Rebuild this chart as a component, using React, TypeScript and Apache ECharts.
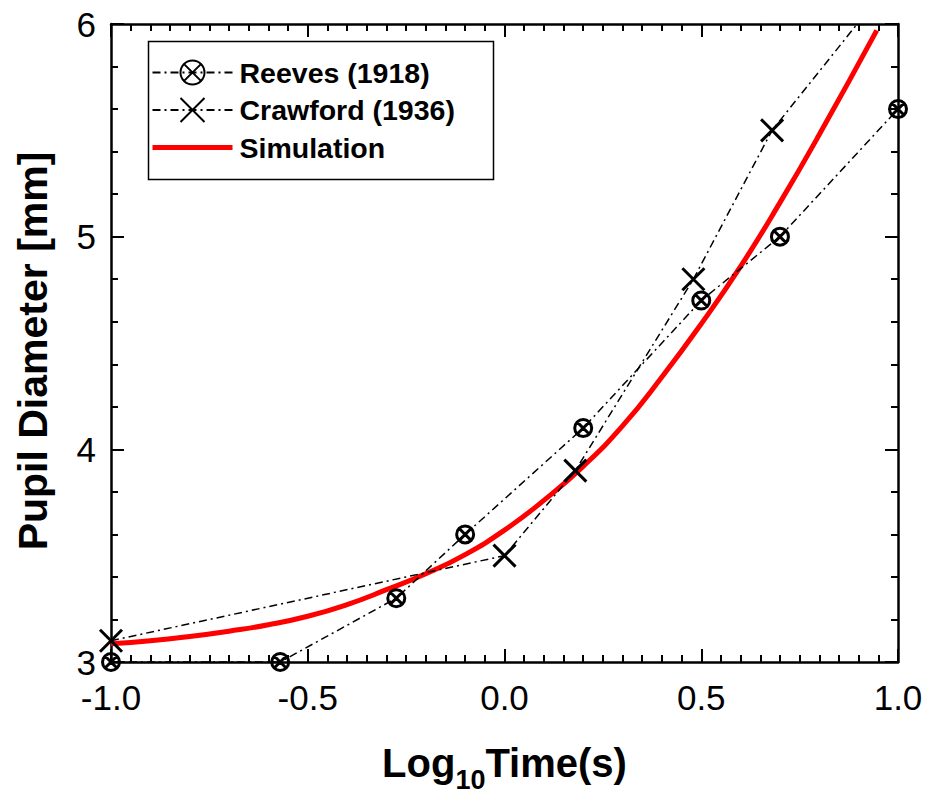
import React, { useEffect, useRef } from "react";
import * as echarts from "echarts";

// ---- data ----
const xTicks = [-1.0, -0.5, 0.0, 0.5, 1.0];
const yTicks = [3, 4, 5, 6];

const reevesX = [-1.0, -0.57, -0.275, -0.1, 0.2, 0.5, 0.7, 1.0];
const reevesY = [3.0, 3.0, 3.3, 3.6, 4.1, 4.7, 5.0, 5.6];

const crawfordX = [-1.0, 0.0, 0.18, 0.48, 0.68, 1.0];
const crawfordY = [3.1, 3.5, 3.9, 4.8, 5.5, 6.24];

const simX = [-1.0, -0.9, -0.8, -0.7, -0.6, -0.5, -0.4, -0.3, -0.2, -0.1, 0.0, 0.1, 0.2, 0.3, 0.4, 0.5, 0.6, 0.7, 0.8, 0.946];
const simY = [3.086, 3.1, 3.12, 3.145, 3.175, 3.215, 3.27, 3.34, 3.415, 3.505, 3.62, 3.76, 3.92, 4.11, 4.34, 4.59, 4.86, 5.16, 5.48, 5.97];

const seriesNames = ["Reeves (1918)", "Crawford (1936)", "Simulation"];

const FONT = "Arial, 'Liberation Sans', sans-serif";

const zip = (xs: number[], ys: number[]) => xs.map((x, i) => [x, ys[i]]);

const circleX =
  "path://M-1,0 A1,1 0 1,0 1,0 A1,1 0 1,0 -1,0 Z M-0.7,-0.7 L0.7,0.7 M-0.7,0.7 L0.7,-0.7";
const crossX = "path://M0,0 L1,1 M0,1 L1,0";

export default function App() {
  const ref = useRef<HTMLDivElement>(null);

  useEffect(() => {
    if (!ref.current) return;
    const chart = echarts.init(ref.current, undefined, { renderer: "svg" });

    const axisLine = { show: true, onZero: false, lineStyle: { color: "#000", width: 2.5 } };
    const axisTick = { show: true, inside: true, length: 13, lineStyle: { color: "#000", width: 2 } };

    const xCommon = {
      type: "value" as const,
      min: xTicks[0],
      max: xTicks[xTicks.length - 1],
      interval: 0.5,
      axisLine,
      axisTick,
      minorTick: { show: true, splitNumber: 10, length: 7, lineStyle: { color: "#000", width: 2 } },
      splitLine: { show: false },
      minorSplitLine: { show: false },
    };
    const yCommon = {
      type: "value" as const,
      min: yTicks[0],
      max: yTicks[yTicks.length - 1],
      interval: 1,
      axisLine,
      axisTick,
      minorTick: { show: true, splitNumber: 5, length: 7, lineStyle: { color: "#000", width: 2 } },
      splitLine: { show: false },
      minorSplitLine: { show: false },
    };

    const dashDot = [8, 4, 2, 4];

    chart.setOption({
      animation: false,
      backgroundColor: "#fff",
      grid: { left: 111, right: 33, top: 24, bottom: 132, containLabel: false },
      graphic: [
        {
          type: "rect",
          z: 0,
          shape: { x: 148.5, y: 41.5, width: 345, height: 138 },
          style: { fill: "#fff", stroke: "#000", lineWidth: 1.5 },
        },
      ],
      legend: {
        data: [
          { name: seriesNames[0] },
          { name: seriesNames[1] },
          { name: seriesNames[2], itemStyle: { opacity: 0 }, lineStyle: { width: 5, color: "#ff0000" } },
        ],
        orient: "vertical",
        left: 150,
        top: 58,
        padding: 0,
        itemWidth: 80,
        itemHeight: 30,
        itemGap: 8.5,
        z: 5,
        textStyle: { fontFamily: FONT, fontSize: 28.5, fontWeight: "bold", color: "#000", padding: [0, 0, 0, 2] },
      },
      xAxis: [
        {
          ...xCommon,
          position: "bottom",
          axisLabel: {
            show: true,
            margin: 20,
            fontFamily: FONT,
            fontSize: 35,
            lineHeight: 30,
            color: "#000",
            formatter: (v: number) => v.toFixed(1),
          },
          name: "{a|Log}{b|10}{a|Time(s)}",
          nameLocation: "middle",
          nameGap: 71,
          nameTextStyle: {
            rich: {
              a: { fontFamily: FONT, fontSize: 40, fontWeight: "bold", color: "#000", lineHeight: 60 },
              b: {
                fontFamily: FONT,
                fontSize: 27,
                fontWeight: "bold",
                color: "#000",
                lineHeight: 28,
                verticalAlign: "bottom",
              },
            },
          },
        },
        { ...xCommon, position: "top", axisLabel: { show: false } },
      ],
      yAxis: [
        {
          ...yCommon,
          position: "left",
          axisLabel: {
            show: true,
            margin: 15,
            fontFamily: FONT,
            fontSize: 35,
            lineHeight: 28,
            color: "#000",
            formatter: (v: number) => String(v),
          },
          name: "Pupil Diameter [mm]",
          nameLocation: "middle",
          nameGap: 58,
          nameTextStyle: {
            fontFamily: FONT,
            fontSize: 41,
            fontWeight: "bold",
            color: "#000",
            padding: [0, 16, 0, 0],
          },
        },
        { ...yCommon, position: "right", axisLabel: { show: false } },
      ],
      series: [
        {
          name: seriesNames[2],
          type: "line",
          data: zip(simX, simY),
          smooth: 0.5,
          symbol: "none",
          showSymbol: false,
          clip: true,
          z: 2,
          lineStyle: { color: "#ff0000", width: 5 },
          itemStyle: { color: "#ff0000" },
        },
        {
          name: seriesNames[0],
          type: "line",
          data: zip(reevesX, reevesY),
          symbol: circleX,
          symbolSize: 17,
          clip: true,
          z: 3,
          lineStyle: { color: "#000", width: 1.5, type: dashDot },
          itemStyle: { color: "transparent", borderColor: "#000", borderWidth: 3 },
        },
        {
          name: seriesNames[1],
          type: "line",
          data: zip(crawfordX, crawfordY),
          symbol: crossX,
          symbolSize: 22,
          clip: true,
          z: 3,
          lineStyle: { color: "#000", width: 1.5, type: dashDot },
          itemStyle: { color: "transparent", borderColor: "#000", borderWidth: 3 },
        },
      ],
    });

    return () => chart.dispose();
  }, []);

  return (
    <div
      ref={ref}
      style={{ position: "fixed", left: 0, top: 0, width: 931, height: 798, background: "#fff" }}
    />
  );
}
